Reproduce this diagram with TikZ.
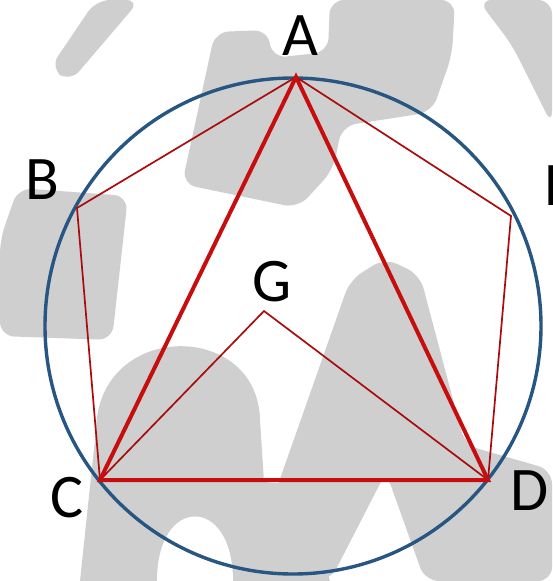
\documentclass[tikz,border=0pt]{standalone}
\usepackage{fontspec}
\setmainfont{Carlito}
\usetikzlibrary{calc}
\definecolor{rimB}{RGB}{40,86,130}
\definecolor{chordR}{RGB}{198,14,14}
\colorlet{wmG}{black!19}
\tikzset{
  rim/.style       ={draw=rimB, line width=3.4pt},
  chordThick/.style={draw=chordR, line width=4pt, line join=miter},
  chordThin/.style ={draw=chordR!85!black, line width=1.7pt},
  lbl/.style       ={inner sep=0pt, font=\fontsize{62}{62}\selectfont},
  wm/.style        ={fill=wmG, draw=none, rounded corners=14pt},
}

\begin{document}
\begin{tikzpicture}[x=1pt, y=-1pt]
\useasboundingbox (0,0) rectangle (552,581);
\fill[white] (0,0) rectangle (552,581);

% --- watermark ---
\fill[wm] (50,68) -- (70,82) -- (140,0) -- (96,0) -- cycle;
\fill[wm] (215,32) -- (268,30) -- (272,58) -- (328,52) -- (330,0) -- (455,0)
  -- (452,55) -- (432,112) -- (342,126) -- (333,170) -- (298,208) -- (182,184) -- cycle;
\fill[wm] (478,0) -- (552,0) -- (552,125) -- (512,45) -- cycle;
\fill[wm] (18,188) -- (128,196) -- (112,340) -- (0,336) -- (0,240) -- cycle;
\fill[wmG] (80,581) -- (96,430) .. controls (98,320) and (258,320) .. (260,420)
  -- (264,482) -- (300,485) -- (330,581) -- cycle;
\fill[white] (157,581) .. controls (157,495) and (233,495) .. (233,581) -- cycle;
\fill[wm] (262,530) -- (350,280) -- (385,258) -- (420,275) -- (465,445)
  -- (552,470) -- (552,581) -- (425,581) -- (386,472) -- (330,581)
  -- (262,581) -- cycle;

% --- points ---
\coordinate (O) at (293,326);
\coordinate (A) at (296,77);
\coordinate (B) at (77,208);
\coordinate (C) at (100,480);
\coordinate (D) at (488,480);
\coordinate (E) at (511,216);
\coordinate (G) at (264,311);

% --- circle ---
\draw[rim] (O) circle[radius=248pt];

% --- pentagon and centre ---
\draw[chordThin] (A) -- (B) -- (C);
\draw[chordThin] (A) -- (E) -- (D);
\draw[chordThin] (C) -- (G) -- (D);
\draw[chordThick] (A) -- (C) -- (D) -- cycle;

% --- labels ---
\node[lbl] (labA) at (300,36)  {A};
\node[lbl] (labB) at (42,180)  {B};
\node[lbl] (labC) at (67,498)  {C};
\node[lbl] (labD) at (530,491) {D};
\node[lbl] (labE) at (560,186) {E};
\node[lbl] (labG) at (272,282) {G};

\end{tikzpicture}
\end{document}
